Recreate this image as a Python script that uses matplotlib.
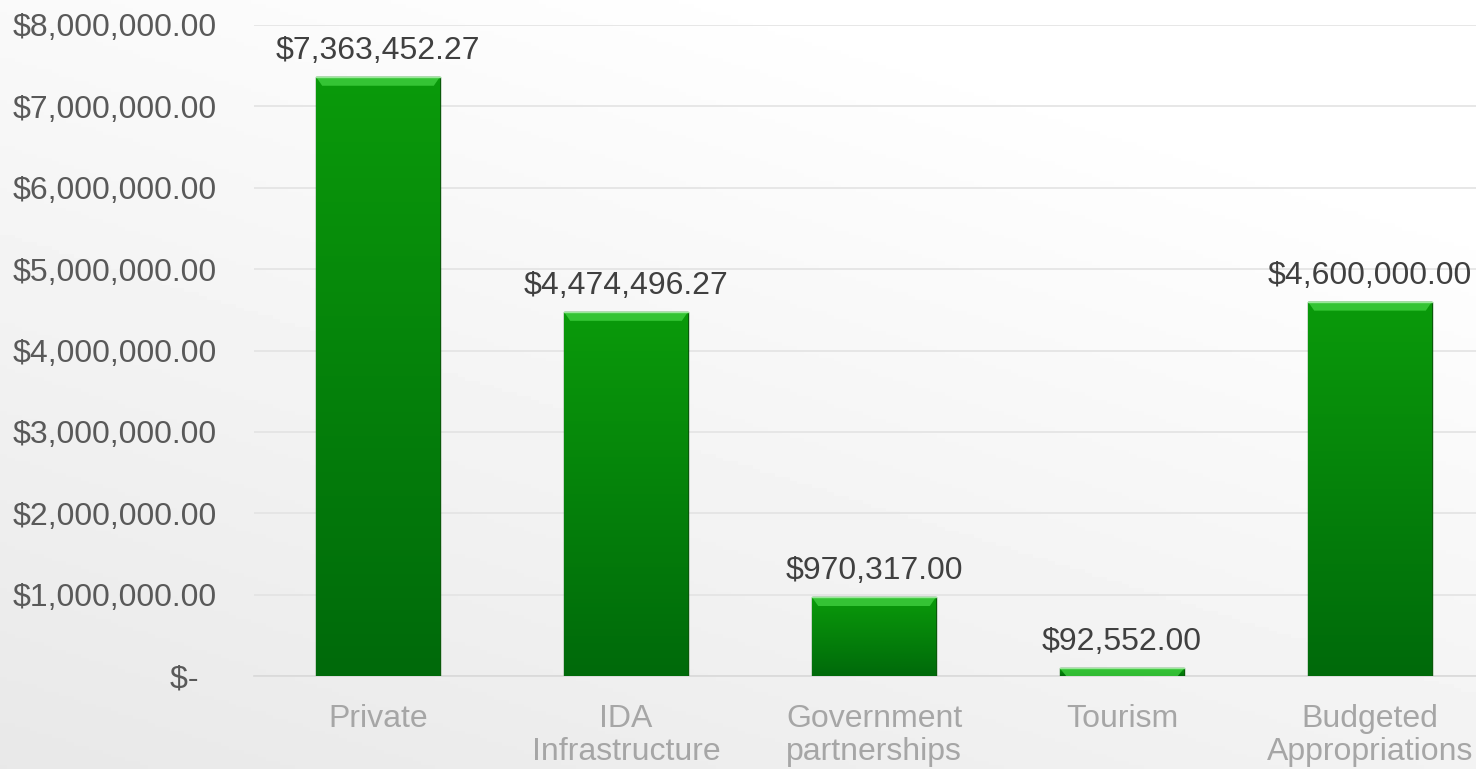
import numpy as np
import matplotlib
matplotlib.use('Agg')
import matplotlib.pyplot as plt
from matplotlib.colors import LinearSegmentedColormap

plt.rcParams['font.family'] = ['Liberation Sans', 'DejaVu Sans']

categories = ['Private', 'IDA\nInfrastructure', 'Government\npartnerships', 'Tourism', 'Budgeted\nAppropriations']
values = [7363452.27, 4474496.27, 970317.00, 92552.00, 4600000.00]
yticks = [0, 1000000, 2000000, 3000000, 4000000, 5000000, 6000000, 7000000, 8000000]


def money(v):
    if v == 0:
        return '$-  '
    return '${:,.2f}'.format(v)


fig = plt.figure(figsize=(14.76, 7.69), dpi=100)

# soft grey background gradient
bg = fig.add_axes([0, 0, 1, 1], zorder=-10)
yy, xx = np.mgrid[0:1:200j, 0:1:200j]
shade = 0.91 + 0.09 * np.clip(0.75 * yy + 0.45 * xx, 0, 1)
bg.imshow(shade, cmap='gray', vmin=0, vmax=1, origin='lower', aspect='auto', extent=[0, 1, 0, 1])
bg.axis('off')

ax = fig.add_axes([254 / 1476, 93 / 769, 1240 / 1476, 651 / 769])
ax.patch.set_alpha(0)

x = np.arange(len(categories))
bars = ax.bar(x, values, width=0.5, color='#058a05', edgecolor='#0a5a0a', linewidth=1, zorder=3)

green = LinearSegmentedColormap.from_list('g', ['#006a0a', '#0a9a0a'])
grad = np.linspace(0, 1, 100).reshape(-1, 1)
for b in bars:
    x0, w, h = b.get_x(), b.get_width(), b.get_height()
    im = ax.imshow(grad, cmap=green, origin='lower', aspect='auto',
                   extent=[x0, x0 + w, 0, h], zorder=4)
    im.set_clip_path(b)
    # top bevel highlight
    bev = min(h, 110000)
    ax.fill([x0, x0 + w, x0 + w - 0.025, x0 + 0.025],
            [h, h, h - bev, h - bev], color='#3fcf3f', alpha=0.8, zorder=5, lw=0)
    ax.plot([x0, x0 + w], [h, h], color='#9ae89a', lw=1, zorder=6)

for xi, v in zip(x, values):
    ax.annotate(money(v), (xi, v), xytext=(0, 8), textcoords='offset points',
                ha='center', va='bottom', fontsize=23, color='#404040', annotation_clip=False)

ax.set_xlim(-0.5, len(categories) - 0.5)
ax.set_ylim(0, 8000000)
ax.set_yticks(yticks)
ax.set_yticklabels([money(t) for t in yticks])
ax.set_xticks(x)
ax.set_xticklabels(categories, linespacing=1.15)
ax.tick_params(axis='y', length=0, pad=27, labelsize=23, labelcolor='#595959')
ax.tick_params(axis='x', length=0, pad=20, labelsize=23, labelcolor='#a6a6a6')
ax.grid(axis='y', color='#e3e3e3', linewidth=1.2, zorder=0)
for s in ['top', 'right', 'left']:
    ax.spines[s].set_visible(False)
ax.spines['bottom'].set_color('#d9d9d9')
ax.spines['bottom'].set_linewidth(1.2)

fig.savefig('out.png', dpi=100)
